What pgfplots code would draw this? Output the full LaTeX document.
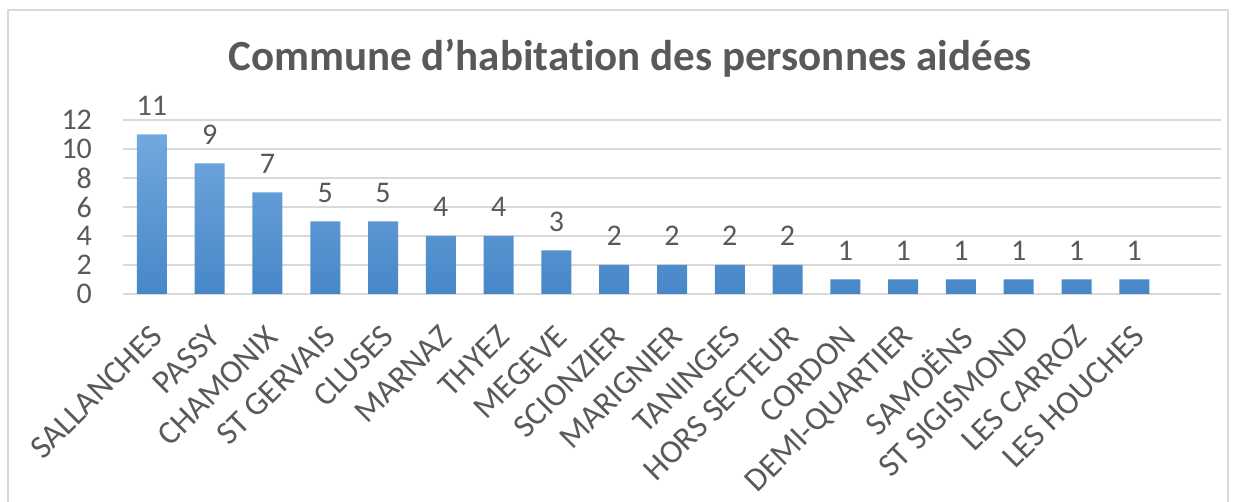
\documentclass[border=0pt]{standalone}
\usepackage{fontspec}
\setmainfont{Carlito}[Ligatures=CommonOff]
\usepackage{pgfplots}
\pgfplotsset{compat=1.18}
\definecolor{txt}{HTML}{595959}
\definecolor{gridc}{HTML}{D9D9D9}
\definecolor{bartop}{HTML}{72A8DE}
\definecolor{barbot}{HTML}{4787C8}
\begin{document}
\begin{tikzpicture}
\path[use as bounding box] (0,0) rectangle (619.5pt,251pt);
\draw[gridc, line width=0.75pt] (4pt,-2pt) -- (4pt,246pt) -- (614pt,246pt) -- (614pt,-2pt);
\begin{axis}[
  at={(61.5pt,104pt)}, anchor=south west,
  scale only axis, width=549pt, height=87pt,
  xmin=-0.5, xmax=18.5, ymin=0, ymax=12,
  ytick={0,2,...,12},
  xtick={0,...,17},
  xticklabels={SALLANCHES,PASSY,CHAMONIX,ST GERVAIS,CLUSES,MARNAZ,THYEZ,MEGEVE,SCIONZIER,MARIGNIER,TANINGES,HORS SECTEUR,CORDON,DEMI-QUARTIER,SAMOËNS,ST SIGISMOND,LES CARROZ,LES HOUCHES},
  axis line style={draw=none},
  major tick length=0pt,
  ymajorgrids, grid style={gridc, line width=0.75pt},
  /pgf/number format/assume math mode=true,
  yticklabel style={font=\fontsize{15}{17}\selectfont, text=txt, xshift=-12pt},
  xticklabel style={font=\fontsize{16.5}{18}\selectfont, text=txt, rotate=45, anchor=east, xshift=-8pt, yshift=-15pt},
  ybar, bar width=15pt,
  nodes near coords,
  every node near coord/.append style={font=\fontsize{15}{17}\selectfont, text=txt, yshift=6pt},
  clip=false,
]
\addplot[draw=none, top color=bartop, bottom color=barbot] coordinates {
(0,11) (1,9) (2,7) (3,5) (4,5) (5,4) (6,4) (7,3) (8,2) (9,2) (10,2) (11,2)
(12,1) (13,1) (14,1) (15,1) (16,1) (17,1)};
\end{axis}
\node[font=\fontsize{21.5}{25}\selectfont\bfseries, text=txt] at (315pt,222pt) {Commune d’habitation des personnes aidées};
\end{tikzpicture}
\end{document}
